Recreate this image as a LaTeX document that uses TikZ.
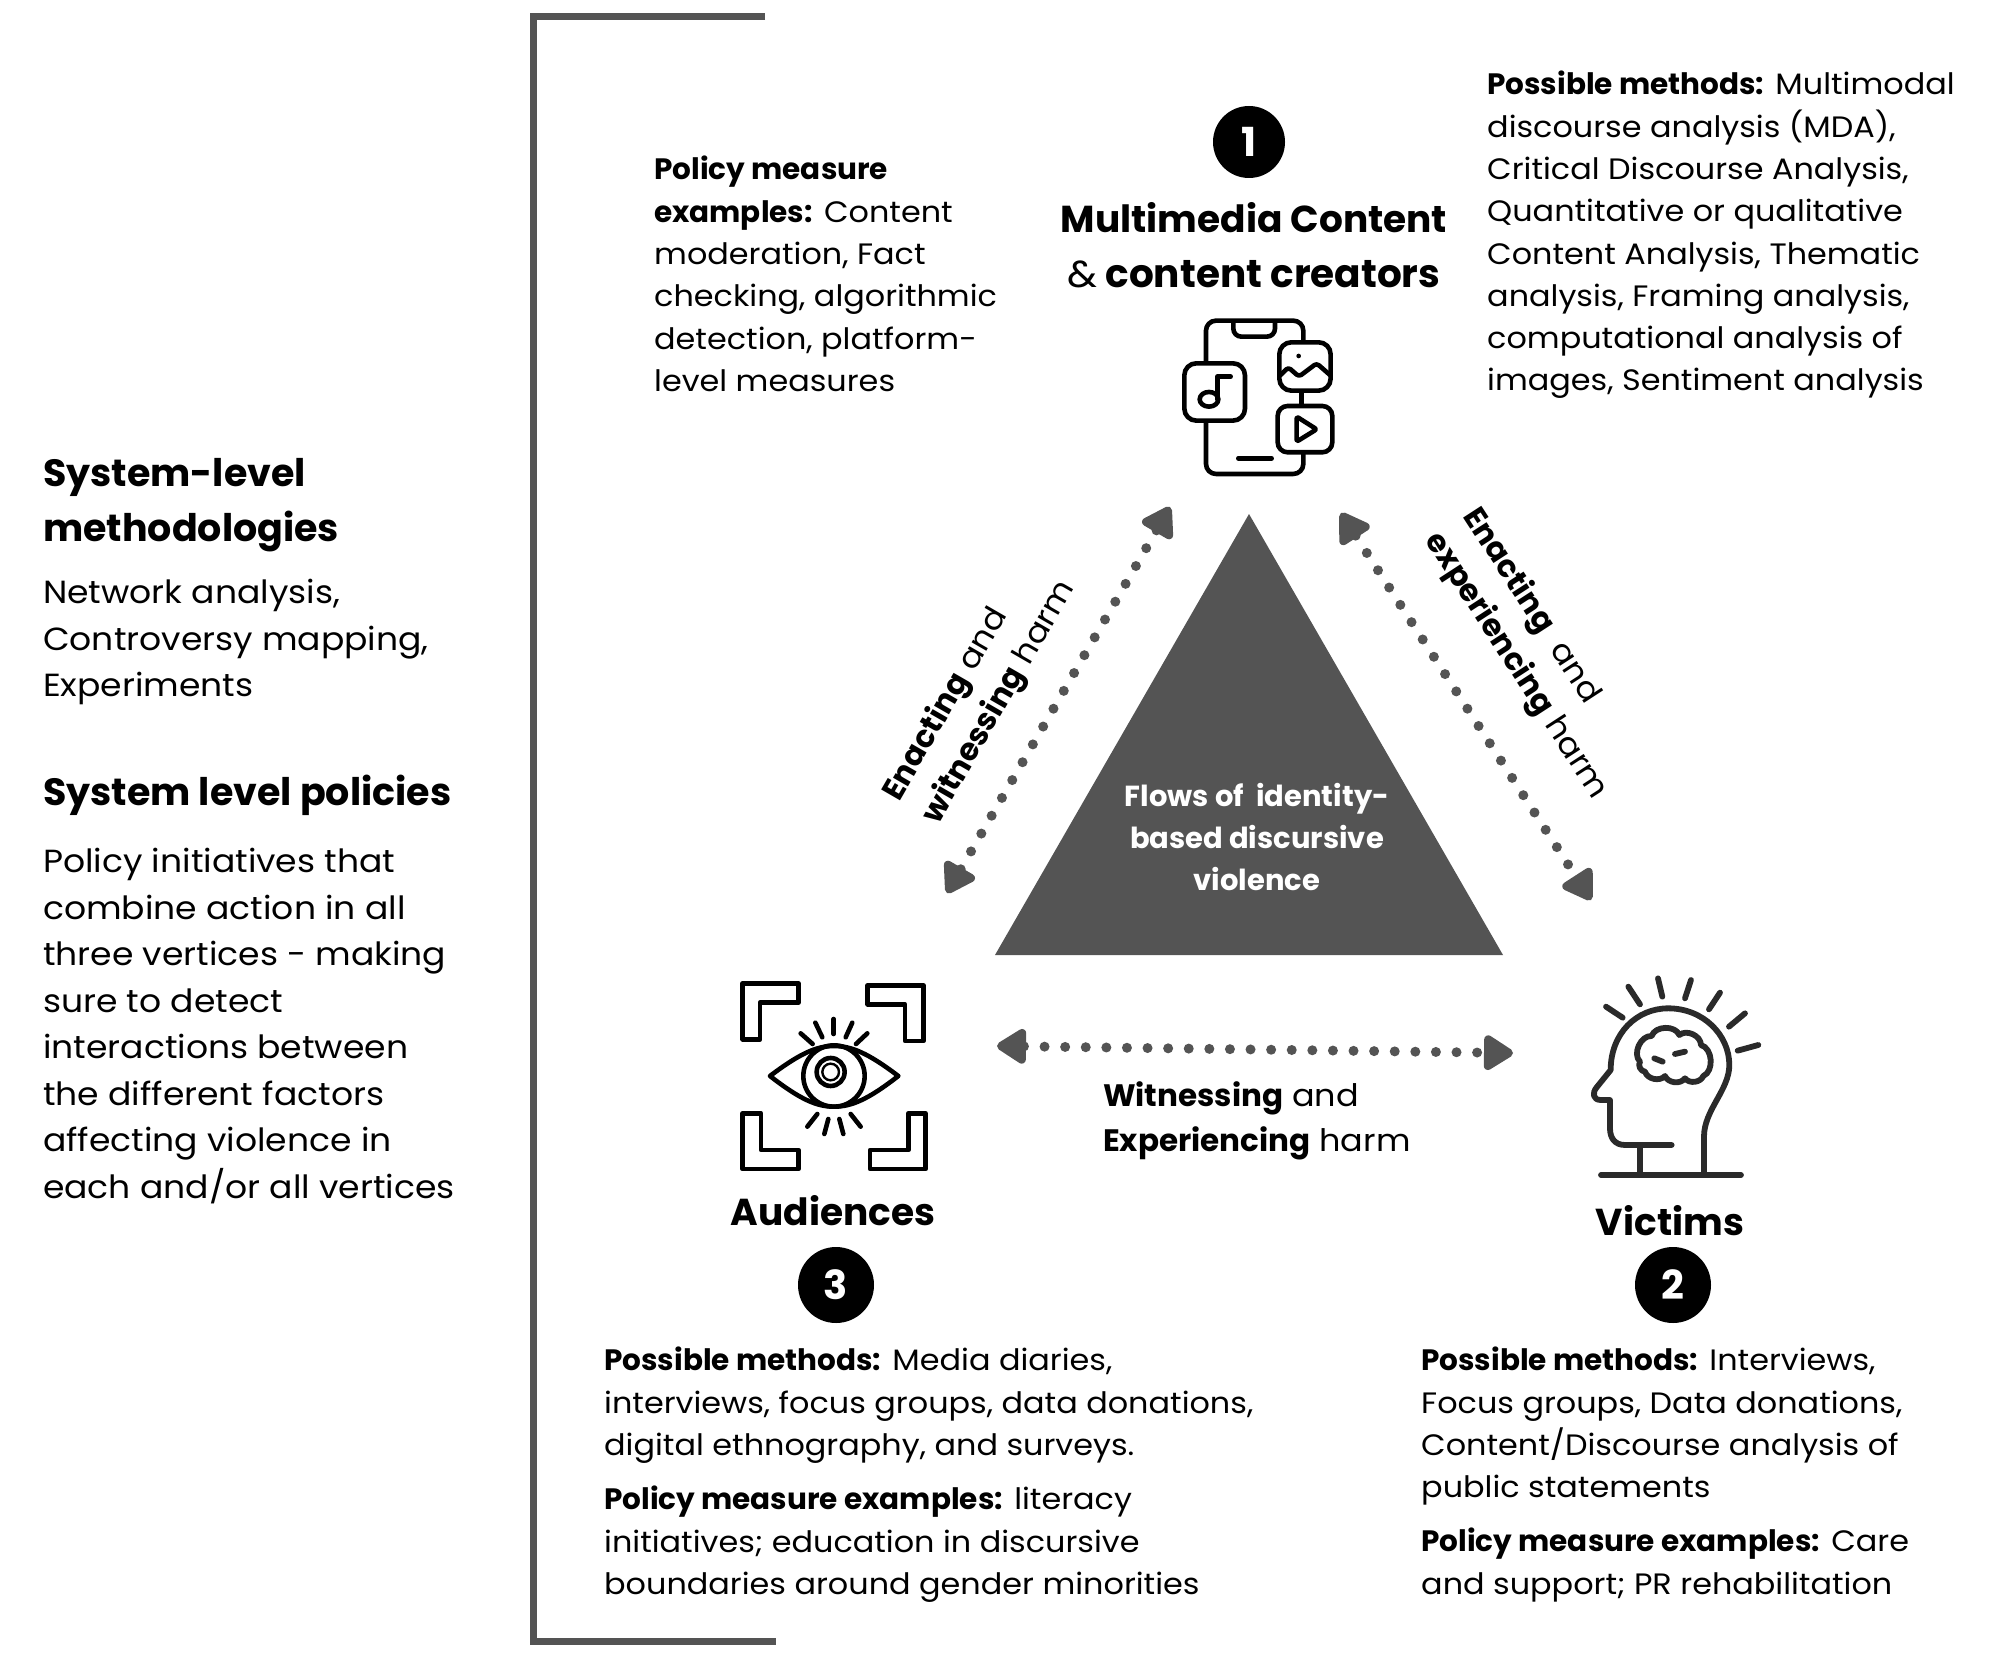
\documentclass[tikz,border=0pt]{standalone}
\usepackage{fontspec}
\setmainfont{Poppins}[FakeStretch=1.08,BoldFeatures={FakeStretch=1.0}]
\usetikzlibrary{arrows.meta}
\definecolor{darkgrey}{HTML}{545454}

\tikzset{
  bodytext/.style={inner sep=0pt,anchor=north west,align=left,font=\fontsize{29.5}{42.3}\selectfont},
  sidetext/.style={inner sep=0pt,anchor=north west,align=left,font=\fontsize{32}{46.5}\selectfont},
  sidehead/.style={inner sep=0pt,anchor=north west,align=left,font=\fontsize{38}{55}\selectfont\bfseries},
  title/.style={inner sep=0pt,align=center,font=\fontsize{37.5}{55}\selectfont\bfseries},
  number/.style={circle,fill=black,text=white,inner sep=0pt,font=\fontsize{40}{40}\selectfont\bfseries},
  harm/.style={inner sep=0pt,align=left,font=\fontsize{31}{45}\selectfont},
  flow/.style={<->,>={Triangle[round,length=33pt,width=39pt]},darkgrey,line width=10pt,line cap=round,dash pattern=on 0pt off 20.6pt},
  icon/.style={line width=4.6pt,line cap=round,line join=round}
}

\begin{document}
\begin{tikzpicture}[x=1pt,y=-1pt]
  \useasboundingbox (0,0) rectangle (2000,1656);

  \node[sidehead] (syshead) at (43,458) {System-level\\methodologies};
  \node[sidetext] (sysmethods) at (43,579) {Network analysis,\\Controversy mapping,\\Experiments};
  \node[sidehead] (polhead) at (43,775) {System level policies};
  \node[sidetext] (poltext) at (43,848) {Policy initiatives that\\combine action in all\\three vertices - making\\sure to detect\\interactions between\\the different factors\\affecting violence in\\each and/or all vertices};

  \coordinate (brtop) at (765,17);
  \coordinate (brtl) at (533,17);
  \coordinate (brbl) at (533,1641);
  \coordinate (brbot) at (776,1641);
  \draw[darkgrey,line width=7pt] (brtop) -- (brtl) -- (brbl) -- (brbot);

  \fill[darkgrey] (1249,514) -- (995,955) -- (1503,955) -- cycle;
  \node[inner sep=0pt,align=center,text=white,font=\fontsize{29}{42}\selectfont\bfseries] (core) at (1257,837) {Flows of~ identity-\\based discursive\\violence};

  \node[number,minimum size=72pt] (n1) at (1249,142) {1};
  \node[number,minimum size=76pt] (n2) at (1673,1285) {2};
  \node[number,minimum size=76pt] (n3) at (836,1285) {3};
  \node[title] (content) at (1254,245) {Multimedia Content\\{\mdseries\&} {\fontsize{39}{55}\selectfont content creators}};
  \node[title] (audiences) at (833,1211) {Audiences};
  \node[title] (victims) at (1670,1221) {Victims};

  \node[bodytext] (methods1) at (1487,71) {\textbf{Possible methods:} Multimodal\\discourse analysis (MDA),\\Critical Discourse Analysis,\\Quantitative or qualitative\\Content Analysis, Thematic\\analysis, Framing analysis,\\computational analysis of\\images, Sentiment analysis};
  \node[bodytext] (policy1) at (654,156) {\textbf{Policy measure}\\\textbf{examples:} Content\\moderation, Fact\\checking, algorithmic\\detection, platform-\\level measures};
  \node[bodytext] (methods3) at (604,1347) {\textbf{Possible methods:} Media diaries,\\interviews, focus groups, data donations,\\digital ethnography, and surveys.};
  \node[bodytext] (policy3) at (604,1486) {\textbf{Policy measure examples:} literacy\\initiatives; education in discursive\\boundaries around gender minorities};
  \node[bodytext] (methods2) at (1421,1347) {\textbf{Possible methods:} Interviews,\\Focus groups, Data donations,\\Content/Discourse analysis of\\public statements};
  \node[bodytext] (policy2) at (1421,1528) {\textbf{Policy measure examples:} Care\\and support; PR rehabilitation};

  \coordinate (lefttop) at (1170,507);
  \coordinate (leftbot) at (947,893);
  \coordinate (righttop) at (1341,513);
  \coordinate (rightbot) at (1591,900);
  \coordinate (botleft) at (997,1046);
  \coordinate (botright) at (1513,1053);
  \draw[flow] (lefttop) -- (leftbot);
  \draw[flow] (righttop) -- (rightbot);
  \draw[flow] (botleft) -- (botright);

  \node[harm,rotate=60] (leftharm) at (980,691) {\textbf{Enacting} and\\\textbf{witnessing} harm};
  \node[harm,rotate=-57] (rightharm) at (1535,654) {\textbf{Enacting}~ and\\\textbf{experiencing} harm};
  \node[harm,anchor=north west] (botharm) at (1103,1081) {\textbf{Witnessing} and\\\textbf{Experiencing} harm};

  \begin{scope}[shift={(1100,80)},x=0.3333pt,y=-0.3333pt,icon]
    \draw[rounded corners=10pt] (318,845) -- (318,722) -- (610,722) -- (610,785);
    \draw[rounded corners=10pt] (318,1025) -- (318,1182) -- (610,1182) -- (610,1120);
    \draw[rounded corners=8pt] (400,725) -- (400,770) -- (525,770) -- (525,725);
    \draw (605,935) -- (605,975);
    \draw (415,1135) -- (515,1135);
    \draw[rounded corners=12pt] (538,787) rectangle (692,932);
    \draw[rounded corners=3pt] (542,885) -- (565,862) -- (597,890) -- (650,850) -- (690,885);
    \fill (596,828) circle [radius=7];
    \draw[rounded corners=12pt] (253,850) rectangle (435,1022);
    \draw (352,958) -- (352,890) -- (392,890);
    \draw (327,958) ellipse [x radius=28,y radius=22];
    \draw[rounded corners=10pt] (533,978) rectangle (697,1117);
    \draw[rounded corners=2pt] (590,1010) -- (590,1085) -- (650,1048) -- cycle;
  \end{scope}

  \begin{scope}[shift={(700,950)},x=0.3333pt,y=-0.3333pt,icon]
    \draw (128,100) -- (295,100) -- (295,158) -- (180,158) -- (180,268) -- (128,268) -- cycle;
    \draw (503,106) -- (670,106) -- (670,273) -- (615,273) -- (615,163) -- (503,163) -- cycle;
    \draw (128,490) -- (183,490) -- (183,600) -- (295,600) -- (295,657) -- (128,657) -- cycle;
    \draw (510,600) -- (625,600) -- (625,490) -- (677,490) -- (677,657) -- (510,657) -- cycle;
    \draw (210,378) .. controls (300,310) and (350,288) .. (402,288) .. controls (455,288) and (505,310) .. (595,378) .. controls (505,448) and (455,470) .. (402,470) .. controls (350,470) and (300,448) .. (210,378) -- cycle;
    \draw (402,378) circle [radius=92];
    \draw (392,366) circle [radius=42];
    \draw[line width=2.4pt] (392,366) circle [radius=25];
    \foreach \ax/\ay/\bx/\by in {302/250/338/282,346/218/367/262,401/207/401/252,457/218/437/262,502/250/468/282,352/492/322/530,385/507/373/552,418/507/430/552,452/492/482/530}
      \draw (\ax,\ay) -- (\bx,\by);
  \end{scope}

  \begin{scope}[shift={(1540,950)},x=0.3333pt,y=-0.3333pt,icon,line width=5.8pt,darkgrey!50!black]
    \draw (183,675) -- (603,675);
    \draw (300,590) -- (300,675);
    \draw (395,585) -- (255,585) .. controls (225,585) and (210,565) .. (210,535) -- (210,450) -- (182,450) .. controls (160,450) and (155,430) .. (170,412) -- (212,360) .. controls (212,250) and (290,175) .. (385,175) .. controls (490,175) and (568,255) .. (568,345) .. controls (568,420) and (492,480) .. (492,560) -- (492,675);
    \draw (335,258) to[bend left=70] (418,255) to[bend left=65] (483,285) to[bend left=70] (490,378) to[bend left=60] (435,385) to[bend left=60] (375,378) to[bend left=60] (315,365) to[bend left=60] (300,335) to[bend left=70] (335,258) -- cycle;
    \draw (343,325) -- (368,335);
    \draw (405,312) -- (435,305);
    \foreach \ax/\ay/\bx/\by in {198/170/248/203,265/110/300/163,354/85/367/140,453/90/435/145,540/128/507/178,615/190/567/230,655/285/593/302}
      \draw (\ax,\ay) -- (\bx,\by);
  \end{scope}
\end{tikzpicture}
\end{document}
